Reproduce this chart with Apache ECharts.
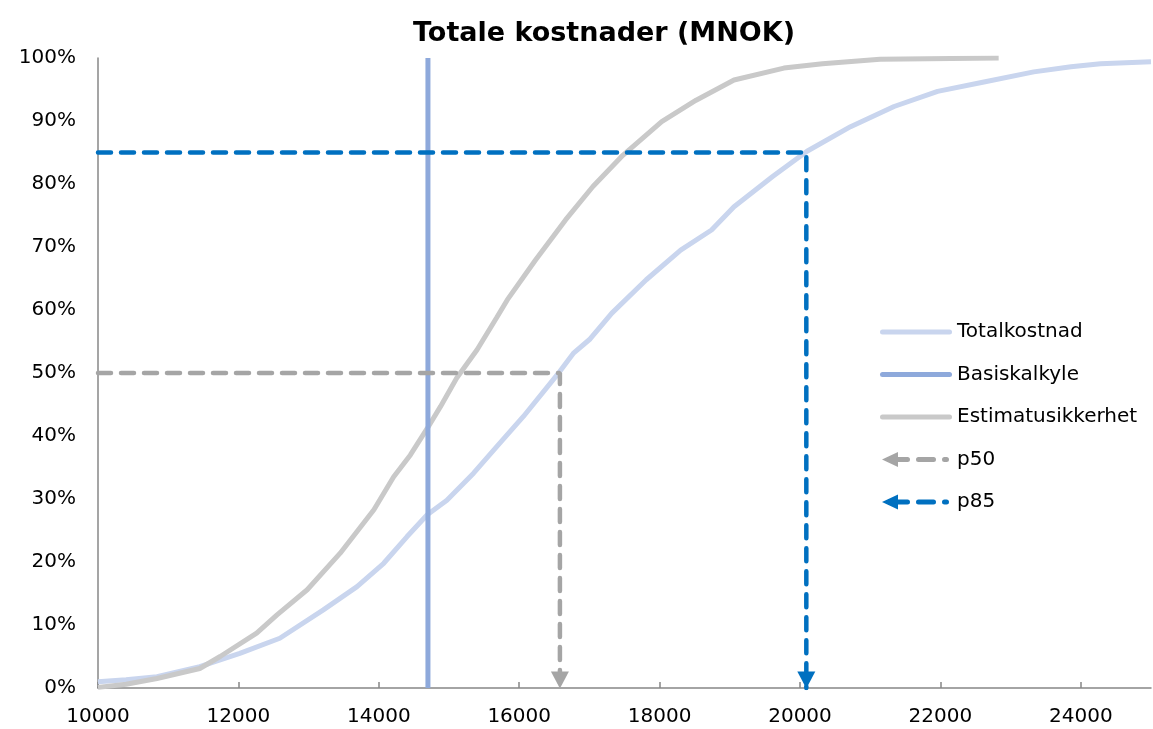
<!DOCTYPE html>
<html>
<head>
<meta charset="utf-8">
<script src="https://cdn.jsdelivr.net/npm/echarts@6/dist/echarts.min.js"></script>
<style>
  html, body { margin: 0; padding: 0; background: #ffffff; }
  #chart { width: 1153px; height: 729px; }
</style>
</head>
<body>
<div id="chart"></div>
<script>
// Axis ticks (MNOK)
const xTicks = [10000, 12000, 14000, 16000, 18000, 20000, 22000, 24000];

// Cumulative distribution of total cost: cost (MNOK) and cumulative share (%)
const totalCostX = [10000, 10400, 10840, 11450, 12020, 12590, 13210, 13690, 14070, 14400, 14690, 14970,
  15350, 15680, 16060, 16540, 16770, 17010, 17320, 17810, 18300, 18740, 19060, 19610, 20100, 20720,
  21340, 21960, 22620, 23330, 23860, 24280, 25000];
const totalCostP = [1.0, 1.3, 1.8, 3.4, 5.5, 7.9, 12.4, 16.1, 19.8, 24.0, 27.5, 29.8,
  34.1, 38.3, 43.1, 49.7, 53.1, 55.4, 59.5, 64.8, 69.5, 72.7, 76.4, 81.2, 85.2, 89.1,
  92.3, 94.7, 96.2, 97.8, 98.6, 99.1, 99.4];

// Cumulative distribution of estimate uncertainty
const estimateX = [10000, 10400, 10840, 11450, 11740, 12260, 12550, 12980, 13450, 13930, 14210, 14450,
  14690, 14880, 15110, 15400, 15680, 15830, 16230, 16660, 17050, 17480, 18030, 18520, 19060, 19770,
  20320, 21140, 22830];
const estimateP = [0.1, 0.6, 1.5, 3.1, 5.0, 8.7, 11.6, 15.6, 21.4, 28.3, 33.5, 37.0,
  41.2, 44.7, 49.2, 53.7, 58.8, 61.6, 67.9, 74.3, 79.6, 84.6, 89.9, 93.3, 96.5, 98.4,
  99.1, 99.8, 100];

// Base estimate and percentiles (MNOK)
const baseEstimate = 14700;
const p50Value = 16580;
const p85Value = 20090;

const zip = (xs, ys) => xs.map((x, i) => [x, ys[i]]);

const FONT = 'DejaVu Sans';
const C_TOTAL = '#C9D5EE';
const C_BASE = '#8EA9DB';
const C_EST = '#C9C9C9';
const C_P50 = '#A5A5A5';
const C_P85 = '#0070C0';

// Legend glyphs on a 72 x 16 box
const lineIcon = 'path://M0 0M72 16M2.5 5.5L69.5 5.5A2.5 2.5 0 0 1 69.5 10.5L2.5 10.5A2.5 2.5 0 0 1 2.5 5.5Z';
const arrowIcon = 'path://M0 0M72 16' +
  'M2 8L18 0.5L18 15.5Z' +
  'M18 5.5L27.5 5.5A2.5 2.5 0 0 1 27.5 10.5L18 10.5Z' +
  'M38.5 5.5L53.5 5.5A2.5 2.5 0 0 1 53.5 10.5L38.5 10.5A2.5 2.5 0 0 1 38.5 5.5Z' +
  'M64.5 5.5L66.5 5.5A2.5 2.5 0 0 1 66.5 10.5L64.5 10.5A2.5 2.5 0 0 1 64.5 5.5Z';

function percentileSeries(name, value, pct, color) {
  return {
    name: name,
    type: 'line',
    data: [[xTicks[0], pct], [value, pct], [value, 0]],
    symbol: (v, p) => (p.dataIndex === 2 ? 'triangle' : 'none'),
    symbolSize: [18, 17],
    symbolRotate: 180,
    symbolOffset: [0, -8],
    showSymbol: true,
    itemStyle: { color: color },
    lineStyle: { color: color, width: 4.5, type: [13, 10], cap: 'round' },
    z: 5,
    silent: true
  };
}

const chart = echarts.init(document.getElementById('chart'), null, { renderer: 'canvas' });
chart.setOption({
  animation: false,
  backgroundColor: '#ffffff',
  textStyle: { fontFamily: FONT },
  title: {
    text: 'Totale kostnader (MNOK)',
    left: 413,
    top: 20,
    padding: 0,
    textStyle: { fontFamily: FONT, fontSize: 27, fontWeight: 'bold', color: '#000000' }
  },
  grid: { left: 98, right: 2, top: 58, bottom: 41, containLabel: false },
  legend: {
    orient: 'vertical',
    left: 880,
    top: 322,
    padding: 0,
    itemWidth: 72,
    itemHeight: 16,
    itemGap: 22.5,
    selectedMode: false,
    textStyle: { fontFamily: FONT, fontSize: 20, color: '#000000', lineHeight: 20, padding: [0, 0, 0, 0] },
    data: [
      { name: 'Totalkostnad', icon: lineIcon, itemStyle: { color: C_TOTAL, borderWidth: 0 } },
      { name: 'Basiskalkyle', icon: lineIcon, itemStyle: { color: C_BASE, borderWidth: 0 } },
      { name: 'Estimatusikkerhet', icon: lineIcon, itemStyle: { color: C_EST, borderWidth: 0 } },
      { name: 'p50', icon: arrowIcon, itemStyle: { color: C_P50, borderWidth: 0 } },
      { name: 'p85', icon: arrowIcon, itemStyle: { color: C_P85, borderWidth: 0 } }
    ]
  },
  xAxis: {
    type: 'value',
    min: 10000,
    max: 25000,
    interval: 2000,
    splitLine: { show: false },
    axisLine: { show: true, lineStyle: { color: '#878787', width: 1.5 } },
    axisTick: { show: true, inside: true, length: 6, lineStyle: { color: '#878787', width: 1.5 }, customValues: xTicks },
    axisLabel: {
      color: '#000000', fontSize: 20, fontFamily: FONT, margin: 19, customValues: xTicks,
      formatter: (v) => String(v)
    }
  },
  yAxis: {
    type: 'value',
    min: 0,
    max: 100,
    interval: 10,
    splitLine: { show: false },
    axisLine: { show: true, lineStyle: { color: '#878787', width: 1.5 } },
    axisTick: { show: false },
    axisLabel: { color: '#000000', fontSize: 20, fontFamily: FONT, margin: 22, formatter: '{value}%' }
  },
  series: [
    {
      name: 'Totalkostnad',
      type: 'line',
      data: zip(totalCostX, totalCostP),
      symbol: 'none',
      lineStyle: { color: C_TOTAL, width: 5 },
      itemStyle: { color: C_TOTAL },
      z: 2
    },
    {
      name: 'Estimatusikkerhet',
      type: 'line',
      data: zip(estimateX, estimateP),
      symbol: 'none',
      lineStyle: { color: C_EST, width: 5 },
      itemStyle: { color: C_EST },
      z: 3
    },
    {
      name: 'Basiskalkyle',
      type: 'line',
      data: [[baseEstimate, 0], [baseEstimate, 100]],
      symbol: 'none',
      lineStyle: { color: C_BASE, width: 5 },
      itemStyle: { color: C_BASE },
      z: 4
    },
    percentileSeries('p50', p50Value, 50, C_P50),
    percentileSeries('p85', p85Value, 85, C_P85)
  ]
});
</script>
</body>
</html>
